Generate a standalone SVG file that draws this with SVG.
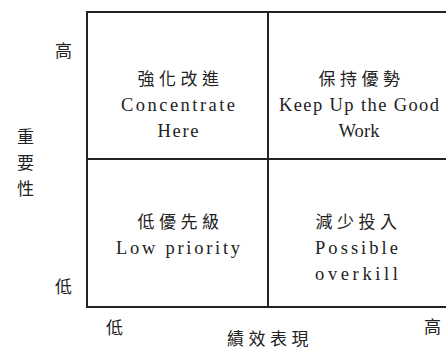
<svg xmlns="http://www.w3.org/2000/svg" width="446" height="349" viewBox="0 0 446 349">
<style>
.cjk{font-family:"Noto Sans CJK TC","Noto Sans CJK SC",sans-serif;font-size:17px;fill:#222;letter-spacing:4.5px}
.ax{font-family:"Noto Sans CJK TC","Noto Sans CJK SC",sans-serif;font-size:17px;fill:#222}
.en{font-family:"Liberation Serif","DejaVu Serif",serif;font-size:18.5px;fill:#222}
.grid{fill:none;stroke:#222;stroke-width:2}
</style>
<rect width="446" height="349" fill="#fff"/>
<g id="connectors">
<rect class="grid" x="87" y="12" width="380" height="295"/>
<line class="grid" x1="268" y1="12" x2="268" y2="307"/>
<line class="grid" x1="87" y1="159" x2="467" y2="159"/>
</g>
<g id="q-concentrate" text-anchor="middle">
<text class="cjk" x="180.5" y="85">強化改進</text>
<text class="en" x="178" y="111" textLength="114" lengthAdjust="spacing">Concentrate</text>
<text class="en" x="178" y="137" textLength="41" lengthAdjust="spacing">Here</text>
</g>
<g id="q-keepup" text-anchor="middle">
<text class="cjk" x="361.5" y="85">保持優勢</text>
<text class="en" x="359" y="111" textLength="160" lengthAdjust="spacing">Keep Up the Good</text>
<text class="en" x="359" y="137" textLength="41" lengthAdjust="spacing">Work</text>
</g>
<g id="q-low" text-anchor="middle">
<text class="cjk" x="180.5" y="228">低優先級</text>
<text class="en" x="178" y="254" textLength="124" lengthAdjust="spacing">Low priority</text>
</g>
<g id="q-overkill" text-anchor="middle">
<text class="cjk" x="358.5" y="228">減少投入</text>
<text class="en" x="356.5" y="254" textLength="83" lengthAdjust="spacing">Possible</text>
<text class="en" x="356.5" y="280" textLength="83" lengthAdjust="spacing">overkill</text>
</g>
<g id="y-axis">
<text class="ax" x="55" y="57">高</text>
<text class="ax" x="17" y="143">重</text>
<text class="ax" x="17" y="169">要</text>
<text class="ax" x="17" y="195">性</text>
<text class="ax" x="55" y="293">低</text>
</g>
<g id="x-axis">
<text class="ax" x="106" y="334">低</text>
<text class="ax" x="424" y="333">高</text>
<text class="cjk" x="227" y="345">績效表現</text>
</g>
</svg>
